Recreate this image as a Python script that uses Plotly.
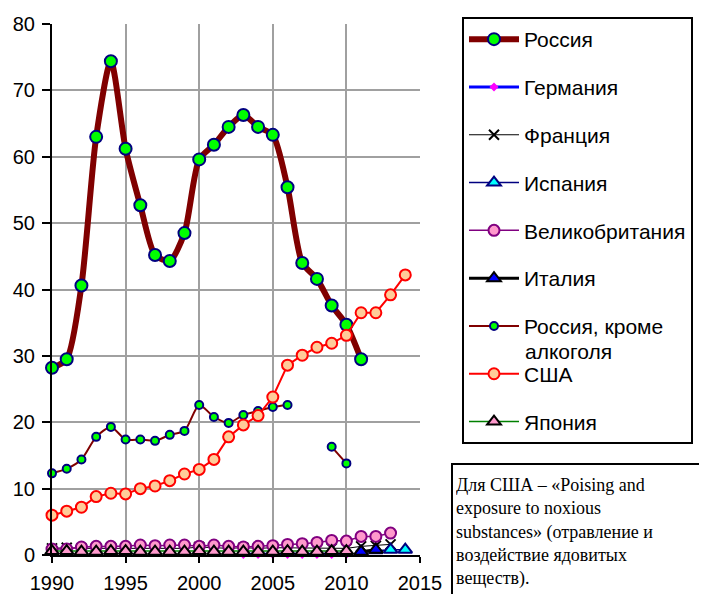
import plotly.graph_objects as go

russia_years = list(range(1990, 2012))
russia = [28.2, 29.5, 40.6, 63.0, 74.4, 61.2, 52.7, 45.2, 44.3, 48.5, 59.6,
          61.8, 64.5, 66.3, 64.5, 63.3, 55.4, 44.0, 41.6, 37.6, 34.7, 29.5]

germany_years = list(range(2003, 2011))
germany = [0.1, 0.1, 0.1, 0.1, 0.1, 0.1, 0.1, 0.1]

france_years = list(range(1990, 2014))
france = [1.0, 1.1, 1.0, 1.0, 1.1, 1.0, 1.1, 1.0, 1.1, 1.0, 1.2, 1.1,
          1.0, 1.1, 1.0, 1.1, 1.1, 1.0, 1.1, 1.0, 1.0, 1.3, 1.4, 1.6]

spain_years = [2011, 2012, 2013, 2014]
spain = [0.5, 0.7, 0.8, 0.8]

uk_years = list(range(1990, 2014))
uk = [0.9, 0.9, 1.2, 1.3, 1.3, 1.3, 1.5, 1.4, 1.5, 1.5, 1.3, 1.5,
      1.3, 1.2, 1.3, 1.4, 1.6, 1.7, 1.9, 2.2, 2.1, 2.8, 2.8, 3.3]

italy_years = [2011, 2012]
italy = [0.5, 0.8]

rus_noalc_years = list(range(1990, 2011))
rus_noalc = [12.3, 13.0, 14.4, 17.8, 19.3, 17.4, 17.4, 17.2, 18.1, 18.7, 22.6,
             20.8, 19.9, 21.1, 21.7, 22.3, 22.6, None, None, 16.3, 13.8]

usa_years = list(range(1990, 2015))
usa = [6.0, 6.6, 7.2, 8.8, 9.3, 9.2, 10.0, 10.4, 11.2, 12.2, 12.9, 14.4, 17.8,
       19.6, 21.0, 23.8, 28.6, 30.1, 31.3, 31.9, 33.1, 36.5, 36.5, 39.2, 42.2]

japan_years = list(range(1990, 2011))
japan = [0.6, 0.6, 0.5, 0.5, 0.6, 0.6, 0.5, 0.5, 0.5, 0.5, 0.6, 0.5,
         0.5, 0.5, 0.5, 0.5, 0.6, 0.5, 0.5, 0.6, 0.6]

x_ticks = [1990, 1995, 2000, 2005, 2010, 2015]
y_ticks = [0, 10, 20, 30, 40, 50, 60, 70, 80]

note_text = ("Для США – «Poising and<br>exposure to noxious<br>"
             "substances» (отравление и<br>воздействие ядовитых<br>веществ).")

ARIAL = "Liberation Sans, Arial, sans-serif"
TIMES = "Liberation Serif, Times New Roman, serif"

fig = go.Figure()

def add(name, xs, ys, lcolor, lwidth, symbol, msize, mfill, medge, mlw, spline=False):
    fig.add_trace(go.Scatter(
        x=xs, y=ys, name=name, mode="lines+markers", legendgroup=name,
        line=dict(color=lcolor, width=lwidth, shape="spline" if spline else "linear",
                  smoothing=0.7),
        marker=dict(symbol=symbol, size=msize, color=mfill,
                    line=dict(color=medge, width=mlw)),
        connectgaps=False, cliponaxis=False,
    ))

add("Россия", russia_years, russia, "#800000", 6, "circle", 12, "#00FF00", "#000080", 2, True)
add("Германия", germany_years, germany, "#0000FF", 3, "diamond", 7, "#FF00FF", "#FF00FF", 0)
add("Франция", france_years, france, "#000000", 1, "x-thin", 10, "#000000", "#000000", 2)
add("Испания", spain_years, spain, "#000080", 1.5, "triangle-up", 12, "#00FFFF", "#000080", 2)
add("Великобритания", uk_years, uk, "#800080", 1.5, "circle", 11, "#FF99CC", "#800080", 2)
add("Италия", italy_years, italy, "#000000", 3, "triangle-up", 12, "#0000FF", "#000000", 2)
add("Россия, кроме", rus_noalc_years, rus_noalc, "#800000", 2, "circle", 8, "#00FF00", "#000080", 2, True)
add("США", usa_years, usa, "#FF0000", 2, "circle", 11, "#FFCC99", "#FF0000", 2)
add("Япония", japan_years, japan, "#008000", 1.5, "triangle-up", 12, "#FF99CC", "#000000", 2)

# the page body adds an 8px margin, so the figure is drawn 8px smaller
OFF = 8
W, H = 707 - OFF, 594 - OFF
PL, PR, PT, PB = 52, 420, 24, 555          # plot area in window pixels
L, R, T, B = PL - OFF, 707 - PR, PT - OFF, 594 - PB
pw, ph = PR - PL, PB - PT

def px(xp):
    return (xp - PL) / pw

def py(yp):
    return (PB - yp) / ph

fig.update_layout(
    width=W, height=H,
    margin=dict(l=L, r=R, t=T, b=B, autoexpand=False),
    paper_bgcolor="white", plot_bgcolor="white",
    font=dict(family=ARIAL, size=20, color="black"),
    showlegend=True,
    legend=dict(
        x=px(462), y=py(17), xanchor="left", yanchor="top",
        bordercolor="black", borderwidth=2, bgcolor="white",
        traceorder="grouped", tracegroupgap=17.5, itemwidth=50,
        valign="middle", maxheight=600,
        font=dict(family=ARIAL, size=21),
    ),
    annotations=[
        dict(text="алкоголя", xref="paper", yref="paper", x=px(523), y=py(351),
             xanchor="left", yanchor="middle", showarrow=False,
             font=dict(family=ARIAL, size=21)),
        dict(text=note_text, xref="paper", yref="paper", x=px(451), y=py(463),
             xanchor="left", yanchor="top", showarrow=False, align="left",
             valign="middle", width=268, height=128,
             bordercolor="black", borderwidth=2, borderpad=3,
             bgcolor="white",
             font=dict(family=TIMES, size=18)),
    ],
)

fig.update_xaxes(
    range=[1990, 2015], tickmode="array", tickvals=x_ticks,
    ticktext=[str(v) for v in x_ticks],
    showgrid=True, gridcolor="#A0A0A0", gridwidth=2,
    showline=True, linecolor="black", linewidth=2,
    ticks="outside", ticklen=6, tickwidth=2, tickcolor="black",
    ticklabelstandoff=3, zeroline=False, automargin=False,
)
fig.update_yaxes(
    range=[0, 80], tickmode="array", tickvals=y_ticks,
    ticktext=[str(v) for v in y_ticks],
    showgrid=True, gridcolor="#A0A0A0", gridwidth=2,
    showline=True, linecolor="black", linewidth=2,
    ticks="outside", ticklen=8, tickwidth=2, tickcolor="black",
    ticklabelstandoff=3, zeroline=False, automargin=False,
)

fig.write_html("out.html")
